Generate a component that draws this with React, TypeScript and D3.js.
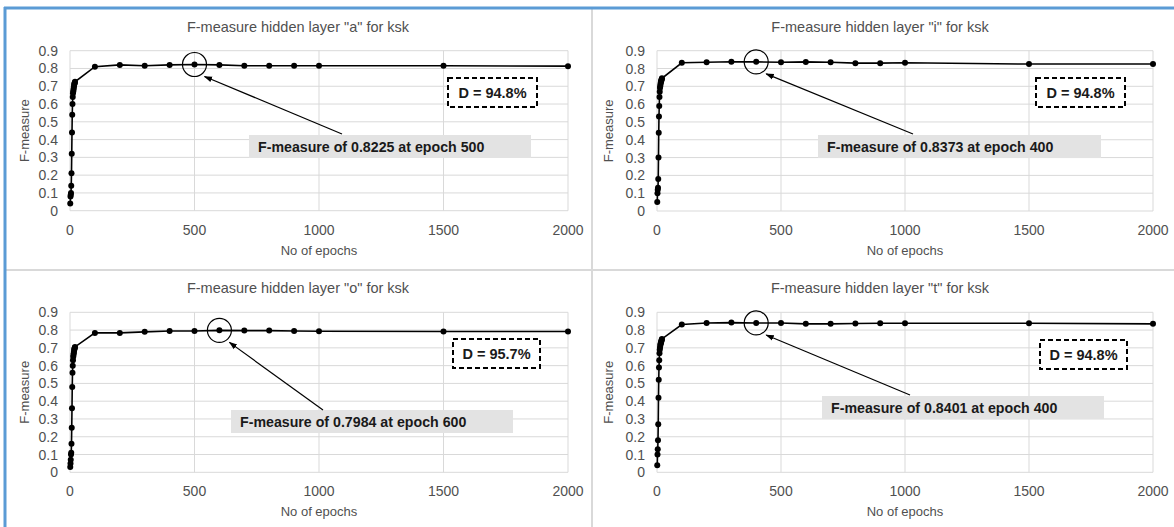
import * as d3 from 'd3';
import { useEffect, useRef } from 'react';

// epochs where the F-measure was recorded (same for every layer)
const epochs = [
  1, 2, 3, 4, 5, 6, 7, 8, 9, 10, 11, 12, 13, 14, 15, 16, 17, 18, 19, 20,
  100, 200, 300, 400, 500, 600, 700, 800, 900, 1000, 1500, 2000,
];

const fA = [
  0.04, 0.08, 0.09, 0.1, 0.14, 0.21, 0.32, 0.44, 0.54, 0.6, 0.64, 0.66, 0.67, 0.68, 0.69, 0.7, 0.71, 0.715, 0.72, 0.725,
  0.81, 0.82, 0.815, 0.82, 0.8225, 0.82, 0.815, 0.815, 0.815, 0.815, 0.815, 0.813,
];
const fI = [
  0.05, 0.1, 0.12, 0.13, 0.18, 0.3, 0.44, 0.53, 0.59, 0.64, 0.67, 0.69, 0.7, 0.71, 0.72, 0.725, 0.73, 0.735, 0.74, 0.745,
  0.832, 0.835, 0.838, 0.8373, 0.835, 0.837, 0.835, 0.83, 0.83, 0.832, 0.825, 0.825,
];
const fO = [
  0.03, 0.05, 0.07, 0.1, 0.11, 0.16, 0.25, 0.36, 0.48, 0.56, 0.6, 0.63, 0.65, 0.66, 0.67, 0.68, 0.69, 0.695, 0.7, 0.705,
  0.784, 0.784, 0.79, 0.795, 0.795, 0.7984, 0.797, 0.797, 0.795, 0.793, 0.792, 0.792,
];
const fT = [
  0.04, 0.1, 0.13, 0.18, 0.27, 0.42, 0.52, 0.59, 0.63, 0.67, 0.69, 0.7, 0.71, 0.72, 0.725, 0.73, 0.735, 0.74, 0.745, 0.75,
  0.831, 0.84, 0.842, 0.8401, 0.84, 0.835, 0.835, 0.837, 0.838, 0.838, 0.838, 0.835,
];

const series = [fA, fI, fO, fT];
const titles = [
  'F-measure hidden layer "a" for ksk',
  'F-measure hidden layer "i" for ksk',
  'F-measure hidden layer "o" for ksk',
  'F-measure hidden layer "t" for ksk',
];
const bestEpochs = [500, 400, 600, 400];
const bestLabels = [
  'F-measure of 0.8225 at epoch 500',
  'F-measure of 0.8373 at epoch 400',
  'F-measure of 0.7984 at epoch 600',
  'F-measure of 0.8401 at epoch 400',
];
const dLabels = ['D = 94.8%', 'D = 94.8%', 'D = 95.7%', 'D = 94.8%'];
const xTicks = [0, 500, 1000, 1500, 2000];
const yTicks = [0, 0.1, 0.2, 0.3, 0.4, 0.5, 0.6, 0.7, 0.8, 0.9];

// pixel layout of each panel
const layout = [
  { cx: 298, x0: 70, x1: 568, yTop: 50.7, yBottom: 210.7, tY: 32, labX: 29,
    dBox: [448, 78, 89, 29], lBox: [249, 135, 282, 23], from: [342, 134] },
  { cx: 880, x0: 657, x1: 1153, yTop: 50.7, yBottom: 211, tY: 32, labX: 613,
    dBox: [1036, 78, 89, 29], lBox: [818, 135, 283, 23], from: [913, 134] },
  { cx: 298, x0: 70, x1: 568, yTop: 312.3, yBottom: 472.3, tY: 293, labX: 29,
    dBox: [453, 339, 87, 29], lBox: [231, 410, 282, 23], from: [323, 410] },
  { cx: 880, x0: 657, x1: 1153, yTop: 312.3, yBottom: 472.3, tY: 293, labX: 613,
    dBox: [1040, 340, 87, 29], lBox: [822, 396, 282, 23], from: [910, 395] },
];

const FONT = "'Liberation Sans', Arial, sans-serif";
const TEXT = '#505050';
const GRID = '#d9d9d9';

const App = (): React.ReactElement => {
  const ref: any = useRef();
  const width = 1174;
  const height = 527;

  useEffect(() => {
    const svg = d3.select(ref.current).attr('width', width).attr('height', height);
    svg.selectAll('*').remove();

    svg.append('rect').attr('width', width).attr('height', height).attr('fill', '#fff');

    const defs = svg.append('defs');
    defs
      .append('marker')
      .attr('id', 'arrow')
      .attr('viewBox', '0 0 10 10')
      .attr('refX', 9)
      .attr('refY', 5)
      .attr('markerWidth', 7)
      .attr('markerHeight', 7)
      .attr('orient', 'auto')
      .append('path')
      .attr('d', 'M0,1.5 L10,5 L0,8.5 z')
      .attr('fill', '#000');

    // panel dividers
    svg.append('line').attr('x1', 592).attr('x2', 592).attr('y1', 8).attr('y2', height)
      .attr('stroke', GRID).attr('stroke-width', 2);
    svg.append('line').attr('x1', 6).attr('x2', width).attr('y1', 270).attr('y2', 270)
      .attr('stroke', GRID).attr('stroke-width', 2);
    // outer blue frame
    svg.append('line').attr('x1', 5).attr('x2', 5).attr('y1', 7).attr('y2', height)
      .attr('stroke', '#5b9bd5').attr('stroke-width', 3);
    svg.append('line').attr('x1', 4).attr('x2', width).attr('y1', 8).attr('y2', 8)
      .attr('stroke', '#5b9bd5').attr('stroke-width', 3);

    layout.forEach((p, i) => {
      const data = epochs.map((e, k) => ({ e, v: series[i][k] }));
      const x = d3.scaleLinear().domain([0, 2000]).range([p.x0, p.x1]);
      const y = d3.scaleLinear().domain([0, 0.9]).range([p.yBottom, p.yTop]);
      const g = svg.append('g').attr('font-family', FONT);

      // grid
      g.append('g')
        .selectAll('line')
        .data(yTicks)
        .enter()
        .append('line')
        .attr('x1', p.x0)
        .attr('x2', p.x1)
        .attr('y1', (d) => y(d))
        .attr('y2', (d) => y(d))
        .attr('stroke', GRID);
      g.append('g')
        .selectAll('line')
        .data(xTicks)
        .enter()
        .append('line')
        .attr('x1', (d) => x(d))
        .attr('x2', (d) => x(d))
        .attr('y1', p.yTop)
        .attr('y2', p.yBottom)
        .attr('stroke', GRID);

      // tick labels
      g.append('g')
        .selectAll('text')
        .data(yTicks)
        .enter()
        .append('text')
        .attr('x', p.x0 - 12)
        .attr('y', (d) => y(d) + 5)
        .attr('text-anchor', 'end')
        .attr('font-size', 14)
        .attr('fill', TEXT)
        .text((d) => (d === 0 ? '0' : d3.format('.1f')(d)));
      g.append('g')
        .selectAll('text')
        .data(xTicks)
        .enter()
        .append('text')
        .attr('x', (d) => x(d))
        .attr('y', p.yBottom + 24)
        .attr('text-anchor', 'middle')
        .attr('font-size', 14)
        .attr('fill', TEXT)
        .text((d) => String(d));

      // titles
      g.append('text')
        .attr('x', p.cx)
        .attr('y', p.tY)
        .attr('text-anchor', 'middle')
        .attr('font-size', 14.5)
        .attr('fill', TEXT)
        .text(titles[i]);
      g.append('text')
        .attr('x', (p.x0 + p.x1) / 2)
        .attr('y', p.yBottom + 44)
        .attr('text-anchor', 'middle')
        .attr('font-size', 13)
        .attr('fill', TEXT)
        .text('No of epochs');
      g.append('text')
        .attr('transform', `translate(${p.labX},${(p.yTop + p.yBottom) / 2}) rotate(-90)`)
        .attr('text-anchor', 'middle')
        .attr('font-size', 13)
        .attr('fill', TEXT)
        .text('F-measure');

      // series
      const line = d3
        .line<{ e: number; v: number }>()
        .x((d) => x(d.e))
        .y((d) => y(d.v));
      g.append('path')
        .datum(data)
        .attr('d', line)
        .attr('fill', 'none')
        .attr('stroke', '#000')
        .attr('stroke-width', 1.6);
      g.append('g')
        .selectAll('circle')
        .data(data)
        .enter()
        .append('circle')
        .attr('cx', (d) => x(d.e))
        .attr('cy', (d) => y(d.v))
        .attr('r', 3)
        .attr('fill', '#000');

      // highlighted point
      const best = data.find((d) => d.e === bestEpochs[i])!;
      const bx = x(best.e);
      const by = y(best.v);
      g.append('circle')
        .attr('cx', bx)
        .attr('cy', by)
        .attr('r', 12)
        .attr('fill', 'none')
        .attr('stroke', '#000')
        .attr('stroke-width', 1.2);

      // label box + arrow
      const [lx, ly, lw, lh] = p.lBox;
      g.append('rect').attr('x', lx).attr('y', ly).attr('width', lw).attr('height', lh).attr('fill', '#e3e3e3');
      g.append('text')
        .attr('x', lx + 9)
        .attr('y', ly + 17)
        .attr('font-size', 14.2)
        .attr('font-weight', 'bold')
        .attr('fill', '#1a1a1a')
        .text(bestLabels[i]);
      g.append('line')
        .attr('x1', p.from[0])
        .attr('y1', p.from[1])
        .attr('x2', bx + 10)
        .attr('y2', by + 12)
        .attr('stroke', '#000')
        .attr('stroke-width', 1.2)
        .attr('marker-end', 'url(#arrow)');

      // D box
      const [dx, dy, dw, dh] = p.dBox;
      g.append('rect')
        .attr('x', dx)
        .attr('y', dy)
        .attr('width', dw)
        .attr('height', dh)
        .attr('fill', '#fff')
        .attr('stroke', '#000')
        .attr('stroke-width', 2)
        .attr('stroke-dasharray', '5,3');
      g.append('text')
        .attr('x', dx + dw / 2)
        .attr('y', dy + dh / 2 + 5)
        .attr('text-anchor', 'middle')
        .attr('font-size', 14.5)
        .attr('font-weight', 'bold')
        .attr('fill', '#1a1a1a')
        .text(dLabels[i]);
    });
  }, []);

  return <svg ref={ref} style={{ position: 'absolute', left: 0, top: 0, display: 'block' }} />;
};

// eslint-disable-next-line import/no-default-export
export default App;
